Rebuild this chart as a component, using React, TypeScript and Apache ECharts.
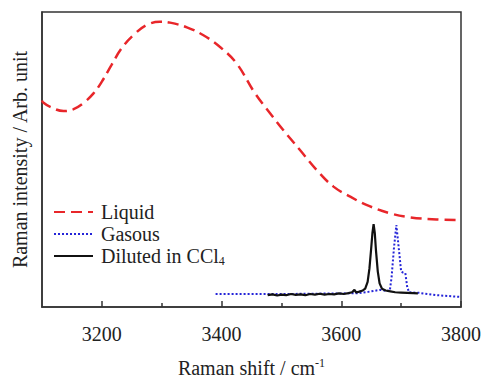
import React, { useEffect, useRef } from "react";
import * as echarts from "echarts";

const xTicks = [3200, 3400, 3600, 3800];
const xMinorTicks = [3300, 3500, 3700];

const liquidX = [3100, 3102, 3113, 3136, 3152, 3169, 3186, 3200, 3216, 3233, 3253, 3275, 3297, 3314, 3342, 3369, 3397, 3425, 3456, 3481, 3503, 3531, 3559, 3587, 3615, 3642, 3681, 3715, 3759, 3800];
const liquidY = [70.0, 69.3, 67.9, 66.4, 67.0, 69.1, 72.4, 76.4, 82.0, 87.7, 92.2, 95.6, 96.7, 96.4, 94.8, 92.2, 88.2, 82.6, 72.4, 65.7, 60.0, 53.2, 46.4, 40.8, 37.4, 34.6, 31.8, 30.4, 29.7, 29.5];

const gasX = [3390, 3450, 3500, 3550, 3600, 3630, 3650, 3665, 3675, 3681, 3684, 3688, 3692, 3696, 3700, 3703, 3707, 3710, 3713, 3730, 3760, 3800];
const gasY = [4.4, 4.4, 4.4, 4.5, 4.6, 4.7, 5.3, 5.8, 5.5, 5.5, 10, 20, 27.8, 20, 12, 11.7, 11.5, 7, 5, 4.8, 4.0, 3.4];

const dilX = [3477, 3485, 3493, 3500, 3508, 3516, 3524, 3532, 3540, 3548, 3556, 3564, 3572, 3580, 3588, 3596, 3604, 3612, 3618, 3622, 3625, 3630, 3636, 3640, 3644, 3647, 3650, 3652, 3654, 3656, 3658, 3661, 3664, 3668, 3674, 3682, 3690, 3700, 3710, 3720, 3728];
const dilY = [4.0, 4.3, 3.9, 4.2, 4.0, 4.4, 4.1, 4.3, 4.0, 4.4, 4.2, 4.5, 4.2, 4.4, 4.3, 4.6, 4.4, 4.7, 5.0, 5.8, 4.9, 5.2, 5.6, 6.2, 8.5, 13, 20, 25, 28.1, 25, 19, 12, 8, 6.2, 5.6, 5.3, 5.0, 4.9, 4.8, 4.7, 4.6];

const seriesNames = ["Liquid", "Gasous", "Diluted in CCl4"];

const zip = (xs: number[], ys: number[]) => xs.map((x, i) => [x, ys[i]]);

export default function App() {
  const ref = useRef<HTMLDivElement>(null);
  useEffect(() => {
    if (!ref.current) return;
    const chart = echarts.init(ref.current, undefined, { renderer: "svg" });
    const font = "Liberation Serif";
    chart.setOption({
      animation: false,
      grid: {
        left: 42,
        right: 21,
        top: 12,
        bottom: 72,
        outerBoundsMode: "none",
        containLabel: false,
        show: true,
        borderColor: "#333",
        borderWidth: 1.5,
        backgroundColor: "transparent",
      },
      legend: {
        orient: "vertical",
        left: 53,
        top: 202,
        padding: 0,
        itemWidth: 39,
        itemHeight: 14,
        itemGap: 2,
        itemStyle: { opacity: 0 },
        data: seriesNames,
        textStyle: {
          fontFamily: font,
          fontSize: 20,
          color: "#222",
          rich: {
            a: { fontFamily: font, fontSize: 20, color: "#222", padding: [0, 0, 0, 3] },
            s: { fontFamily: font, fontSize: 12, color: "#222", padding: [9, 0, 0, 0] },
          },
        },
        formatter: (n: string) => (n === "Diluted in CCl4" ? "{a|Diluted in CCl}{s|4}" : "{a|" + n + "}"),
      },
      xAxis: [
        {
          type: "value",
          min: 3100,
          max: 3800,
          interval: 100,
          axisLine: { show: true, lineStyle: { color: "#333", width: 1.5 } },
          axisTick: { show: true, inside: true, length: 6, customValues: xTicks, lineStyle: { color: "#333", width: 1.5 } },
          splitLine: { show: false },
          axisLabel: {
            margin: 17,
            fontFamily: font,
            fontSize: 20,
            color: "#222",
            customValues: xTicks,
            formatter: (v: number) => String(v),
          },
          name: "Raman shift / cm{sup|-1}",
          nameLocation: "middle",
          nameGap: 50,
          nameTextStyle: {
            fontFamily: font,
            fontSize: 20,
            color: "#222",
            rich: { sup: { fontFamily: font, fontSize: 12, color: "#222", padding: [0, 0, 10, 0] } },
          },
        },
        {
          type: "value",
          gridIndex: 0,
          position: "bottom",
          min: 3100,
          max: 3800,
          interval: 100,
          axisLine: { show: false },
          axisTick: { show: true, inside: true, length: 4, customValues: xMinorTicks, lineStyle: { color: "#333", width: 1.5 } },
          axisLabel: { show: false },
          splitLine: { show: false },
        },
      ],
      yAxis: {
        type: "value",
        min: 0,
        max: 100,
        axisLine: { show: true, lineStyle: { color: "#333", width: 1.5 } },
        axisTick: { show: false },
        axisLabel: { show: false },
        splitLine: { show: false },
        name: "Raman intensity / Arb. unit",
        nameLocation: "middle",
        nameGap: 12,
        nameTextStyle: { fontFamily: font, fontSize: 20, color: "#222" },
      },
      series: [
        {
          name: seriesNames[0],
          type: "line",
          data: zip(liquidX, liquidY),
          smooth: 0.4,
          symbol: "none",
          lineStyle: { color: "#e8262a", width: 2.5, type: [11, 6] },
          itemStyle: { color: "#e8262a" },
        },
        {
          name: seriesNames[1],
          type: "line",
          data: zip(gasX, gasY),
          symbol: "none",
          lineStyle: { color: "#2424d8", width: 2, type: [2, 2] },
          itemStyle: { color: "#2424d8" },
        },
        {
          name: seriesNames[2],
          type: "line",
          data: zip(dilX, dilY),
          symbol: "none",
          lineStyle: { color: "#111", width: 2.2 },
          itemStyle: { color: "#111" },
        },
      ],
    });
    return () => chart.dispose();
  }, []);
  return <div ref={ref} style={{ width: 482, height: 379, position: "absolute", left: 0, top: 0 }} />;
}
